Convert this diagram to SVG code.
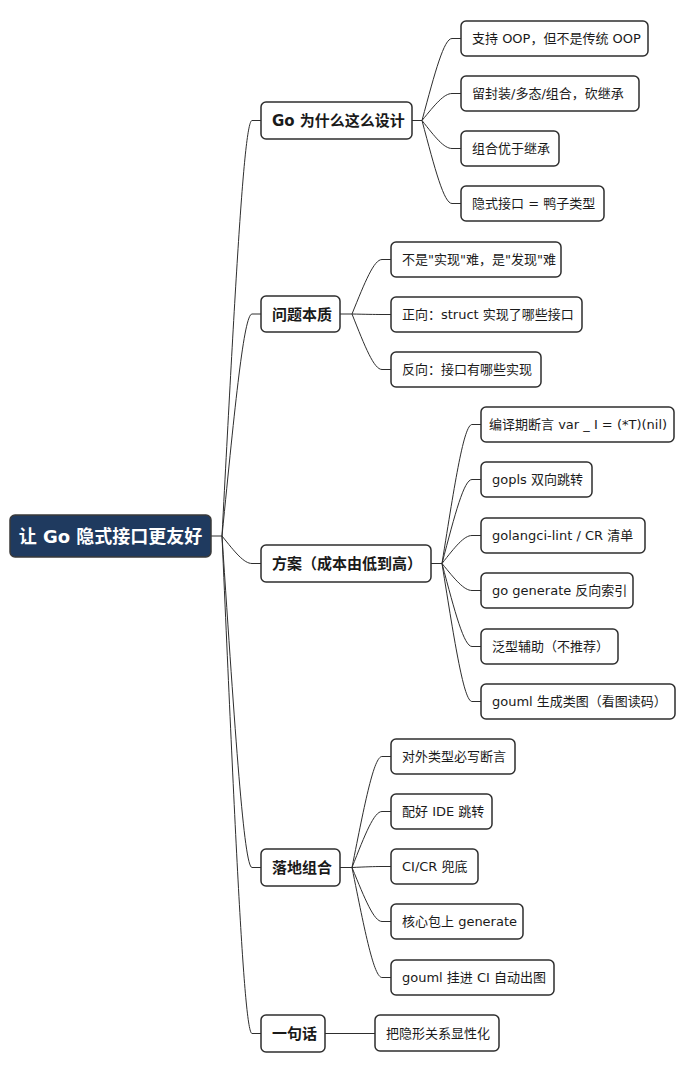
<svg xmlns="http://www.w3.org/2000/svg" width="694" height="1072" viewBox="0 0 694 1072">
<defs>
<style>
.bg{fill:#ffffff}
.box{fill:#ffffff;stroke:#2e2e2e;stroke-width:1.5}
.root{fill:#1f3a5f;stroke:#3a3a3a;stroke-width:1.5}
.t{font-family:"DejaVu Sans","Noto Sans CJK SC",sans-serif;fill:#1a1a1a}
.leaf{font-size:13px}
.l1{font-size:15px;font-weight:bold}
.rt{font-size:18px;font-weight:bold;fill:#ffffff;text-anchor:middle}
.c{fill:none;stroke:#2e2e2e;stroke-width:1}
</style>
</defs>
<rect class="bg" x="0" y="0" width="694" height="1072"/>
<g id="connectors">
<path class="c" d="M211,536 H222"/>
<path class="c" d="M222,536 C235.2,286.7 244,120.5 252,120.5 H261"/>
<path class="c" d="M222,536 C235.2,402.8 244,314 252,314 H261"/>
<path class="c" d="M222,536 C235.2,552.5 244,563.5 252,563.5 H261"/>
<path class="c" d="M222,536 C235.2,734.9 244,867.5 252,867.5 H261"/>
<path class="c" d="M222,536 C235.2,834.5 244,1033.5 252,1033.5 H261"/>
<path class="c" d="M412,120.5 H422"/>
<path class="c" d="M422,120.5 C435.2,71.3 444,38.5 452,38.5 H461"/>
<path class="c" d="M422,120.5 C435.2,104.3 444,93.5 452,93.5 H461"/>
<path class="c" d="M422,120.5 C435.2,137.3 444,148.5 452,148.5 H461"/>
<path class="c" d="M422,120.5 C435.2,170.3 444,203.5 452,203.5 H461"/>
<path class="c" d="M340,314 H352"/>
<path class="c" d="M352,314 C365.2,281.3 374,259.5 382,259.5 H391"/>
<path class="c" d="M352,314 C365.2,314.3 374,314.5 382,314.5 H391"/>
<path class="c" d="M352,314 C365.2,347.3 374,369.5 382,369.5 H391"/>
<path class="c" d="M431,563.5 H442"/>
<path class="c" d="M442,563.5 C455.2,480.1 464,424.5 472,424.5 H481"/>
<path class="c" d="M442,563.5 C455.2,513.1 464,479.5 472,479.5 H481"/>
<path class="c" d="M442,563.5 C455.2,546.7 464,535.5 472,535.5 H481"/>
<path class="c" d="M442,563.5 C455.2,579.7 464,590.5 472,590.5 H481"/>
<path class="c" d="M442,563.5 C455.2,613.3 464,646.5 472,646.5 H481"/>
<path class="c" d="M442,563.5 C455.2,646.3 464,701.5 472,701.5 H481"/>
<path class="c" d="M340,867.5 H352"/>
<path class="c" d="M352,867.5 C365.2,800.9 374,756.5 382,756.5 H391"/>
<path class="c" d="M352,867.5 C365.2,833.9 374,811.5 382,811.5 H391"/>
<path class="c" d="M352,867.5 C365.2,866.9 374,866.5 382,866.5 H391"/>
<path class="c" d="M352,867.5 C365.2,899.9 374,921.5 382,921.5 H391"/>
<path class="c" d="M352,867.5 C365.2,933.5 374,977.5 382,977.5 H391"/>
<path class="c" d="M325,1033.5 H375"/>
</g>
<g id="root">
<rect class="root" x="10" y="515" width="201" height="42" rx="5"/>
<text class="t rt" x="110.5" y="542.5">让 Go 隐式接口更友好</text>
</g>
<g id="n1">
<rect class="box" x="261" y="102" width="151" height="37" rx="5"/>
<text class="t l1" x="272" y="126">Go 为什么这么设计</text>
</g>
<g id="n1a">
<rect class="box" x="461" y="21" width="187" height="35" rx="5"/>
<text class="t leaf" x="472" y="43">支持 OOP，但不是传统 OOP</text>
</g>
<g id="n1b">
<rect class="box" x="461" y="76" width="178" height="35" rx="5"/>
<text class="t leaf" x="472" y="98">留封装/多态/组合，砍继承</text>
</g>
<g id="n1c">
<rect class="box" x="461" y="131" width="98" height="35" rx="5"/>
<text class="t leaf" x="472" y="153">组合优于继承</text>
</g>
<g id="n1d">
<rect class="box" x="461" y="186" width="143" height="35" rx="5"/>
<text class="t leaf" x="472" y="208">隐式接口 = 鸭子类型</text>
</g>
<g id="n2">
<rect class="box" x="261" y="296" width="79" height="36" rx="5"/>
<text class="t l1" x="272" y="319.5">问题本质</text>
</g>
<g id="n2a">
<rect class="box" x="391" y="242" width="170" height="35" rx="5"/>
<text class="t leaf" x="402" y="264">不是"实现"难，是"发现"难</text>
</g>
<g id="n2b">
<rect class="box" x="391" y="297" width="191" height="35" rx="5"/>
<text class="t leaf" x="402" y="319">正向：struct 实现了哪些接口</text>
</g>
<g id="n2c">
<rect class="box" x="391" y="352" width="150" height="35" rx="5"/>
<text class="t leaf" x="402" y="374">反向：接口有哪些实现</text>
</g>
<g id="n3">
<rect class="box" x="261" y="545" width="170" height="37" rx="5"/>
<text class="t l1" x="272" y="569">方案（成本由低到高）</text>
</g>
<g id="n3a">
<rect class="box" x="481" y="407" width="193" height="35" rx="5"/>
<text class="t leaf" x="489" y="429">编译期断言 var _ I = (*T)(nil)</text>
</g>
<g id="n3b">
<rect class="box" x="481" y="462" width="111" height="35" rx="5"/>
<text class="t leaf" x="492" y="484">gopls 双向跳转</text>
</g>
<g id="n3c">
<rect class="box" x="481" y="518" width="164" height="35" rx="5"/>
<text class="t leaf" x="492" y="540">golangci-lint / CR 清单</text>
</g>
<g id="n3d">
<rect class="box" x="481" y="573" width="152" height="35" rx="5"/>
<text class="t leaf" x="492" y="595">go generate 反向索引</text>
</g>
<g id="n3e">
<rect class="box" x="481" y="629" width="137" height="35" rx="5"/>
<text class="t leaf" x="492" y="651">泛型辅助（不推荐）</text>
</g>
<g id="n3f">
<rect class="box" x="481" y="684" width="194" height="35" rx="5"/>
<text class="t leaf" x="492" y="706">gouml 生成类图（看图读码）</text>
</g>
<g id="n4">
<rect class="box" x="261" y="849" width="79" height="37" rx="5"/>
<text class="t l1" x="272" y="873">落地组合</text>
</g>
<g id="n4a">
<rect class="box" x="391" y="739" width="124" height="35" rx="5"/>
<text class="t leaf" x="402" y="761">对外类型必写断言</text>
</g>
<g id="n4b">
<rect class="box" x="391" y="794" width="101" height="35" rx="5"/>
<text class="t leaf" x="402" y="816">配好 IDE 跳转</text>
</g>
<g id="n4c">
<rect class="box" x="391" y="849" width="87" height="35" rx="5"/>
<text class="t leaf" x="402" y="871">CI/CR 兜底</text>
</g>
<g id="n4d">
<rect class="box" x="391" y="904" width="132" height="35" rx="5"/>
<text class="t leaf" x="402" y="926">核心包上 generate</text>
</g>
<g id="n4e">
<rect class="box" x="391" y="960" width="163" height="35" rx="5"/>
<text class="t leaf" x="402" y="982">gouml 挂进 CI 自动出图</text>
</g>
<g id="n5">
<rect class="box" x="261" y="1015" width="64" height="37" rx="5"/>
<text class="t l1" x="272" y="1039">一句话</text>
</g>
<g id="n5a">
<rect class="box" x="375" y="1015" width="124" height="36" rx="5"/>
<text class="t leaf" x="386" y="1038">把隐形关系显性化</text>
</g>
</svg>
